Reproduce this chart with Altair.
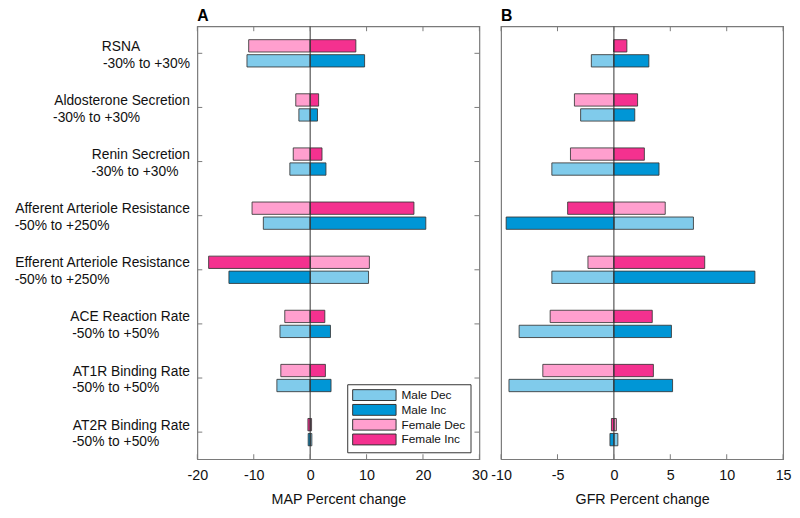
import altair as alt
import pandas as pd

# ---------------- data ----------------
params = ["RSNA", "Aldosterone Secretion", "Renin Secretion",
          "Afferent Arteriole Resistance", "Efferent Arteriole Resistance",
          "ACE Reaction Rate", "AT1R Binding Rate", "AT2R Binding Rate"]
ranges = ["-30% to +30%", "-30% to +30%", "-30% to +30%",
          "-50% to +250%", "-50% to +250%",
          "-50% to +50%", "-50% to +50%", "-50% to +50%"]
# non-breaking-space padding so both lines of a label share a left edge
name_pad = [13, 0, 0, 0, 0, 0, 0, 0]
range_pad = [0, 13, 3, 21, 21, 8, 8, 8]

series = ["Male Dec", "Male Inc", "Female Dec", "Female Inc"]
colors = ["#80cbeb", "#0096d6", "#ff9fce", "#f4318f"]

map_male_dec = [-11.2, -2.0, -3.6, -8.3, 10.35, -5.35, -5.9, 0.3]
map_male_inc = [9.65, 1.3, 2.8, 20.5, -14.4, 3.6, 3.7, -0.35]
map_female_dec = [-10.9, -2.55, -3.0, -10.3, 10.5, -4.5, -5.2, 0.25]
map_female_inc = [8.1, 1.5, 2.1, 18.4, -18.0, 2.6, 2.7, -0.4]

gfr_male_dec = [-2.0, -2.95, -5.5, 7.05, -5.5, -8.4, -9.3, 0.35]
gfr_male_inc = [3.1, 1.85, 4.0, -9.55, 12.5, 5.1, 5.2, -0.35]
gfr_female_dec = [0.0, -3.5, -3.85, 4.55, -2.3, -5.65, -6.3, 0.22]
gfr_female_inc = [1.15, 2.1, 2.7, -4.1, 8.05, 3.4, 3.5, -0.22]

map_ticks = [-20, -10, 0, 10, 20, 30]
gfr_ticks = [-10, -5, 0, 5, 10, 15]

NB = "\u00a0"
ZW = "\u200b"
labels = [p + NB * a + ZW + "|" + r + NB * b + ZW
          for p, r, a, b in zip(params, ranges, name_pad, range_pad)]


def long_table(md, mi, fd, fi):
    vals = {"Male Dec": md, "Male Inc": mi, "Female Dec": fd, "Female Inc": fi}
    rows = []
    for i, lab in enumerate(labels):
        for s in series:
            rows.append({"label": lab, "series": s, "sex": s.split()[0],
                         "value": vals[s][i]})
    return pd.DataFrame(rows)


map_df = long_table(map_male_dec, map_male_inc, map_female_dec, map_female_inc)
gfr_df = long_table(gfr_male_dec, gfr_male_inc, gfr_female_dec, gfr_female_inc)
cat_df = pd.DataFrame({"label": labels})

W, H = 286, 439
FONT = "Liberation Sans"
FRAME = "#7a7a7a"


def panel(df, domain, ticks, letter, xtitle, first):
    ydef = alt.Y("label:N", sort=labels,
                 scale=alt.Scale(paddingInner=0, paddingOuter=0),
                 axis=(alt.Axis(title=None, ticks=False, domain=False,
                                labelExpr="split(datum.label, '|')",
                                labelFontSize=14, labelLimit=400,
                                labelPadding=8, labelBaseline="middle",
                                labelLineHeight=17, labelOffset=-6.5,
                                labelColor="#111", labelFont=FONT)
                       if first else None))
    xdef = alt.X("value:Q",
                 scale=alt.Scale(domain=[domain[0], domain[-1]], nice=False, zero=False),
                 axis=alt.Axis(values=ticks, title=xtitle, grid=False, ticks=False,
                               domain=False, labelFontSize=14.5, labelPadding=10,
                               labelExpr="'' + datum.value",
                               labelColor="#111", labelFont=FONT,
                               titleFont=FONT, titleFontSize=14.5,
                               titleFontWeight="normal", titlePadding=10,
                               titleColor="#111", labelFlush=False))
    legend = (alt.Legend(title=None, orient="none", legendX=152, legendY=363,
                         symbolType="M-1,-1H7V1H-1Z", symbolSize=121,
                         symbolStrokeColor="#333", symbolStrokeWidth=1,
                         symbolOpacity=1,
                         labelFontSize=12, labelFont=FONT, labelOffset=38,
                         rowPadding=-1, padding=5, strokeColor="#333",
                         fillColor="white", labelLimit=200, labelColor="#111")
              if first else None)

    bars = alt.Chart(df).mark_bar(stroke="#333", strokeWidth=1, strokeOpacity=0.85).encode(
        x=xdef,
        y=ydef,
        yOffset=alt.YOffset("sex:N", sort=["Female", "Male"],
                            scale=alt.Scale(paddingInner=0.178, paddingOuter=0.895)),
        color=alt.Color("series:N", scale=alt.Scale(domain=series, range=colors),
                        legend=legend),
    )

    zero = alt.Chart(pd.DataFrame({"z": [0]})).mark_rule(color="#333", strokeWidth=1).encode(
        x="z:Q")

    tick_df = pd.DataFrame({"t": ticks})
    top_ticks = alt.Chart(tick_df).mark_rule(color=FRAME, strokeWidth=1).encode(
        x="t:Q", y=alt.value(0), y2=alt.value(5))
    bot_ticks = alt.Chart(tick_df).mark_rule(color=FRAME, strokeWidth=1).encode(
        x="t:Q", y=alt.value(H - 5), y2=alt.value(H))

    layers = [bars, zero, top_ticks, bot_ticks]
    if first:
        ysimple = alt.Y("label:N", sort=labels)
        left_ticks = alt.Chart(cat_df).mark_rule(color=FRAME, strokeWidth=1).encode(
            y=ysimple, x=alt.value(0), x2=alt.value(5))
        right_ticks = alt.Chart(cat_df).mark_rule(color=FRAME, strokeWidth=1).encode(
            y=ysimple, x=alt.value(W - 5), x2=alt.value(W))
        layers += [left_ticks, right_ticks]

    return alt.layer(*layers).properties(
        width=W, height=H,
        title=alt.TitleParams(letter, anchor="start", frame="group", fontSize=16,
                              fontWeight="bold", font=FONT, offset=2, color="#000"))


pa = panel(map_df, [-20, 30], map_ticks, "A", "MAP Percent change", True)
pb = panel(gfr_df, [-10, 15], gfr_ticks, "B", "GFR Percent change", False)

chart = alt.hconcat(pa, pb, spacing=22, bounds="flush").resolve_scale(
    color="independent", x="independent", y="independent"
).configure_view(stroke=FRAME, strokeWidth=1.2).properties(
    padding={"left": 5, "top": -5, "right": 0, "bottom": 0}
)

chart.save("out.html", embed_options={"renderer": "svg", "actions": False})
